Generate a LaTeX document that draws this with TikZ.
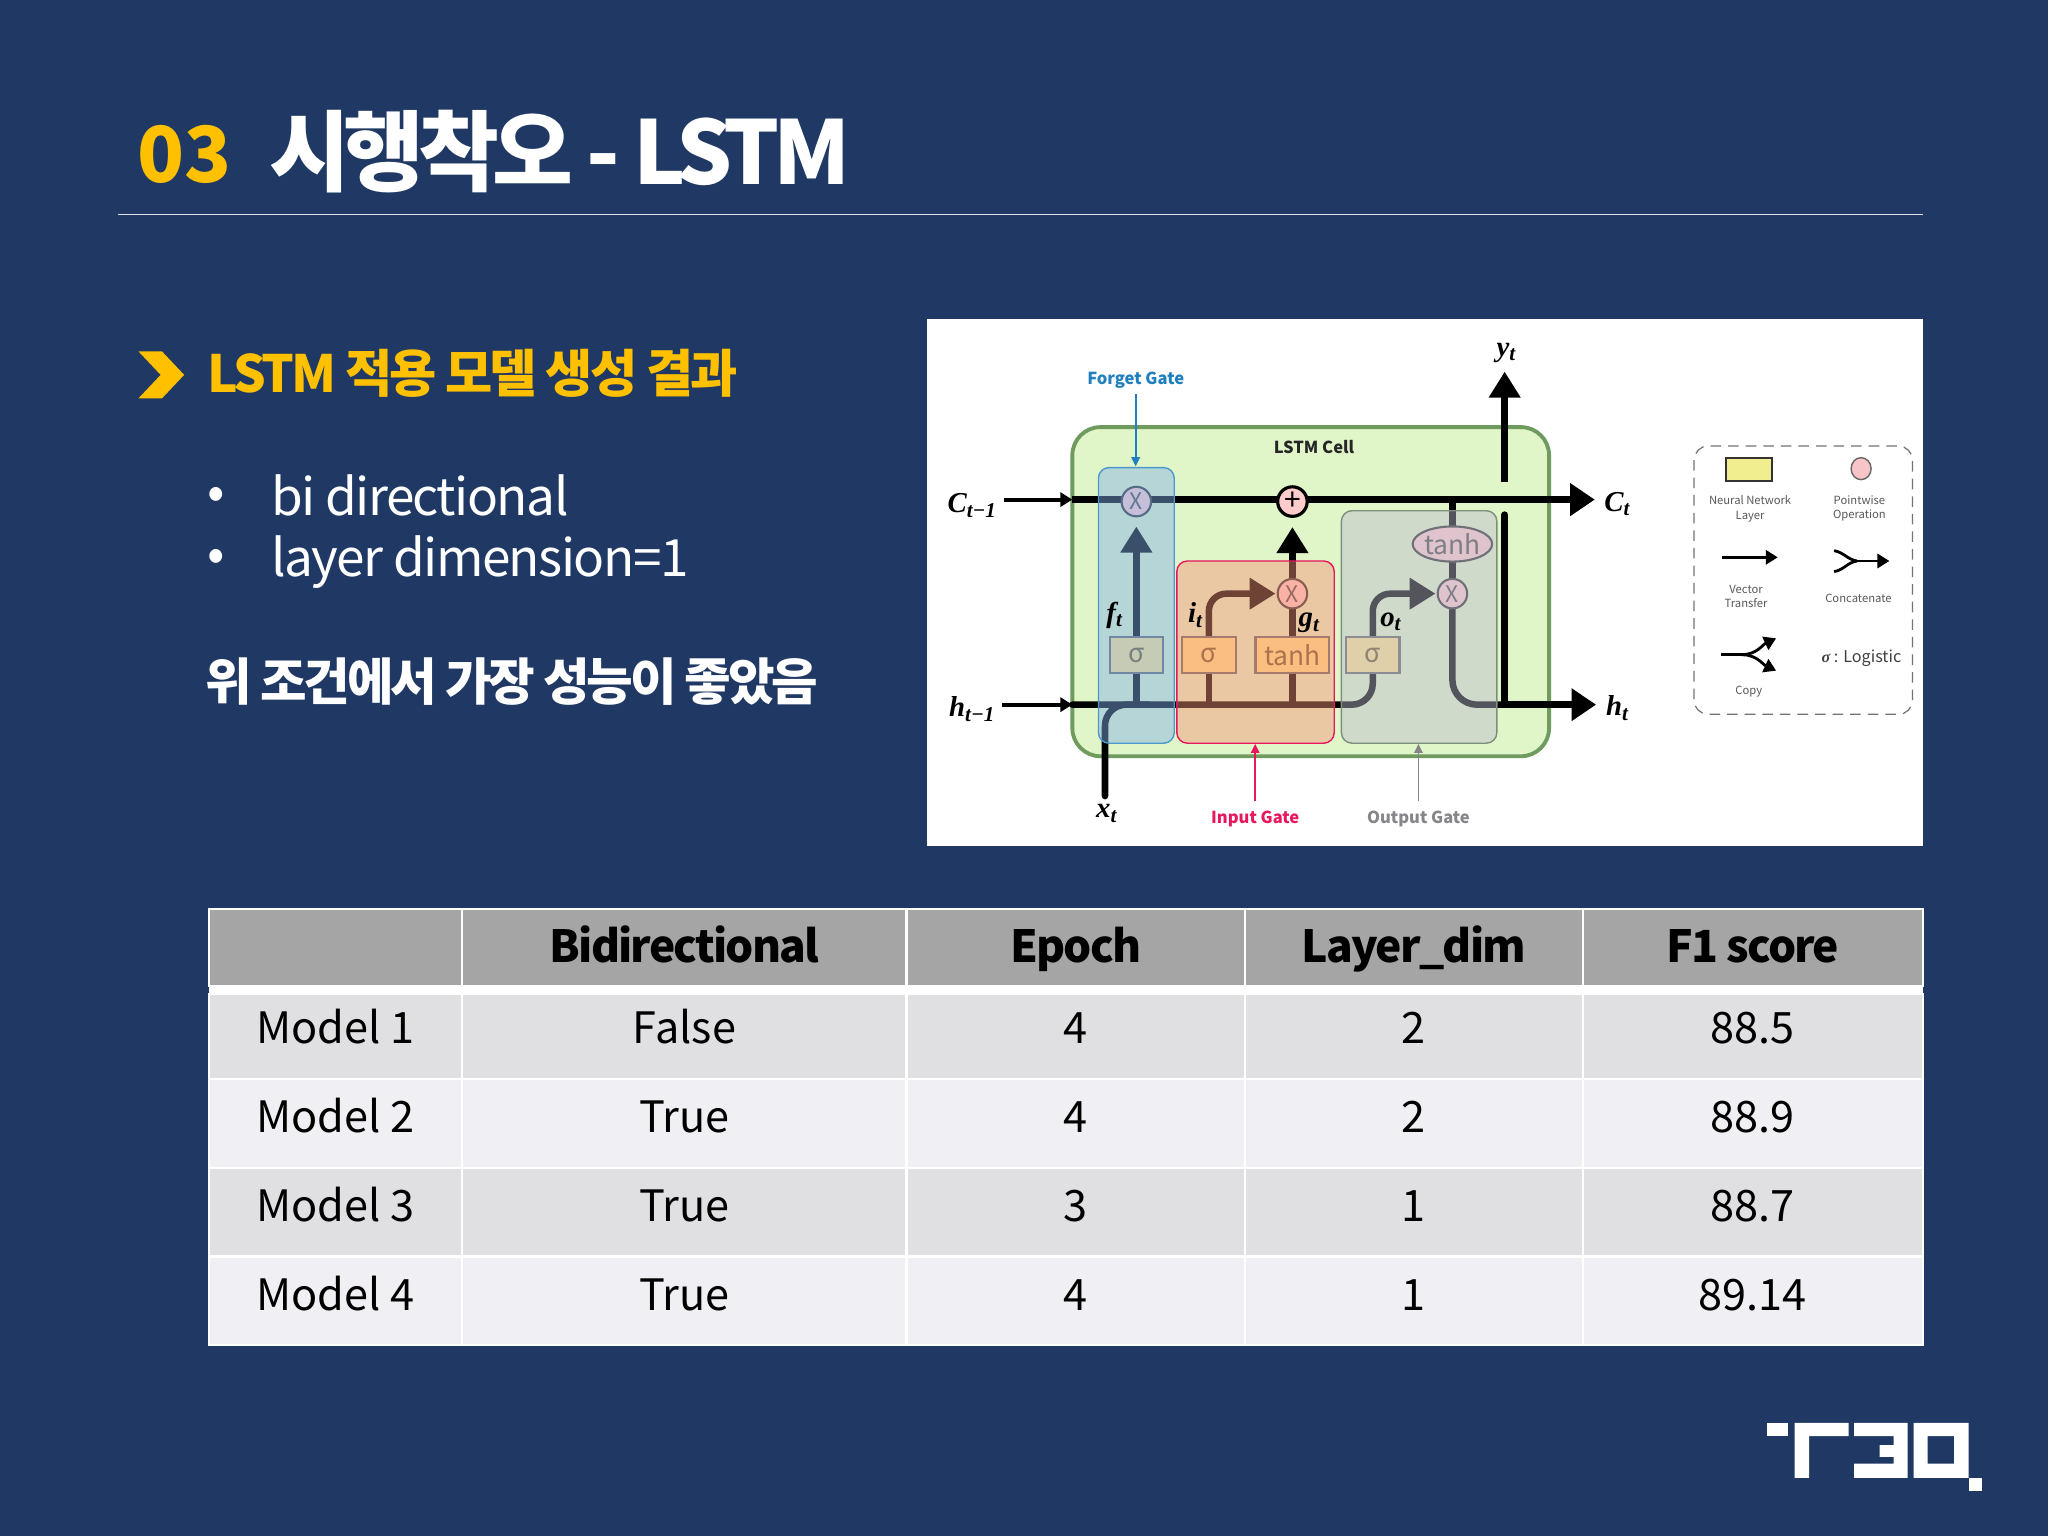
\documentclass[tikz,border=0pt]{standalone}
\usepackage{fontspec}
\usetikzlibrary{arrows.meta}
\usetikzlibrary{shapes.geometric}
\setmainfont{Noto Sans CJK KR}
\newfontfamily\seriffont{Liberation Serif}
\pgfdeclarelayer{under}
\pgfdeclarelayer{lines}
\pgfsetlayers{under,lines,main}
\definecolor{slidebg}{HTML}{1F3864}
\definecolor{slideyellow}{HTML}{FFC000}
\definecolor{headgray}{HTML}{A6A5A6}
\definecolor{rowdark}{HTML}{E0DFE2}
\definecolor{rowlight}{HTML}{F0F0F4}
\definecolor{cellgreen}{HTML}{E0F5C8}
\definecolor{celledge}{HTML}{6F9B5F}
\definecolor{netyellow}{HTML}{FFE28A}
\definecolor{nettext}{HTML}{6E5A2A}
\definecolor{forgetblue}{HTML}{1F7FBF}
\definecolor{inputpink}{HTML}{E6175C}
\definecolor{outputgray}{HTML}{85858A}
\definecolor{outputedge}{HTML}{7C8F7C}
\newcommand{\headfont}{\fontsize{12.6}{15}\bfseries\addfontfeature{LetterSpace=-4}}
\newcommand{\cellfont}{\fontsize{12.3}{15}\selectfont}
\newcommand{\lab}[2]{{\seriffont\bfseries\itshape #1\raisebox{-.35ex}{\fontsize{6}{6}\selectfont #2}}}
\tikzset{
    flow/.style={line width=1.85pt,line cap=round},
    mainflow/.style={line width=2pt,-{Triangle[length=7pt,width=8.9pt]}},
    headflow/.style={line width=1.85pt,-{Triangle[length=7.4pt,width=8.6pt]}},
    thinflow/.style={line width=1.1pt,-{Triangle[length=3.4pt,width=4pt]}},
    gateline/.style={line width=.55pt,-{Triangle[length=2.6pt,width=2.4pt]}},
    netbox/.style={draw=black!60,line width=.6pt,fill=netyellow,text=nettext,inner sep=0pt,minimum height=10.3pt,font=\fontsize{7.5}{8}\selectfont},
    opcircle/.style={circle,draw=black!80,line width=.6pt,fill=red!20,inner sep=0pt,minimum size=8.4pt,text=black!70,font=\fontsize{6.5}{7}\selectfont},
    mathlabel/.style={inner sep=0pt,font=\fontsize{8.2}{9}\selectfont},
    gatelabel/.style={inner sep=0pt,font=\fontsize{4.7}{6}\selectfont\bfseries},
    legendtext/.style={inner sep=0pt,align=center,text=black!65,font=\fontsize{3.2}{4.1}\selectfont},
    legendflow/.style={line width=.8pt,-{Triangle[length=3.4pt,width=4pt]}},
    tabletext/.style={inner sep=0pt,anchor=base,text=black},
    bodytext/.style={anchor=west,inner sep=0pt,text=white,font=\fontsize{14.6}{18}\selectfont},
}
\begin{document}
\begin{tikzpicture}[x=0.1306mm,y=-0.1306mm]
    \useasboundingbox (0,0) rectangle (1568,1176);
    \begin{pgfonlayer}{under}
    	\fill[slidebg] (0,0) rectangle (1568,1176);
    	\fill[white] (710,244) rectangle (1472,648);
    	\draw[celledge,fill=cellgreen,line width=1.1pt,rounded corners=8pt] (821,327) rectangle (1186,579);
    \end{pgfonlayer}

    % title
    \node[anchor=west,inner sep=0pt,text=slideyellow,font=\fontsize{22}{26}\selectfont\bfseries] (titlenum) at (105,118) {03};
    \node[anchor=west,inner sep=0pt,text=white,font=\fontsize{25}{30}\selectfont\bfseries] (titletext) at (206,116) {\addfontfeature{LetterSpace=-7.7}시행착오 - LSTM};
    \draw[white!85!slidebg,line width=.35pt] (90,164.5) -- (1472,164.5);

    % left text
    \fill[slideyellow] (106,269) -- (124,269) -- (141,287) -- (124,305) -- (106,305) -- (123,287) -- cycle;
    \node[anchor=west,inner sep=0pt,text=slideyellow,font=\fontsize{14.6}{18}\selectfont\bfseries] (heading) at (158,286) {\addfontfeature{LetterSpace=-5.8}LSTM 적용 모델 생성 결과};
    \node[bodytext] (bulleta) at (158,382) {•};
    \node[bodytext] (bulletb) at (158,429) {•};
    \node[bodytext] (itema) at (207,379) {\addfontfeature{LetterSpace=-3}bi directional};
    \node[bodytext] (itemb) at (207,430) {\addfontfeature{LetterSpace=-3}layer dimension=1};
    \node[bodytext,font=\fontsize{14.4}{18}\selectfont\bfseries] (summary) at (157,522) {\addfontfeature{LetterSpace=-6.5}위 조건에서 가장 성능이 좋았음};

    % lstm figure
    \coordinate (cin) at (768.5,382.5);
    \coordinate (cedge) at (821,382.5);
    \coordinate (cout) at (1221,382.5);
    \coordinate (hin) at (767,539.5);
    \coordinate (hedge) at (821,539.5);
    \coordinate (hout) at (1222,539.5);
    \coordinate (hjoin) at (1150,539.5);
    \coordinate (xin) at (846,609.5);
    \coordinate (xjoin) at (880,539.5);
    \coordinate (yin) at (1152,369);
    \coordinate (yout) at (1152,284.5);
    \coordinate (ylow) at (1152,394);

    \node[netbox,minimum width=15.2pt] (fsig) at (870,501.5) {σ};
    \node[netbox,minimum width=15.2pt] (isig) at (925.5,501.5) {σ};
    \node[netbox,minimum width=21pt] (gtanh) at (989.5,501.5) {tanh};
    \node[netbox,minimum width=15.2pt] (osig) at (1051,501.5) {σ};
    \node[opcircle] (xforget) at (870,384) {X};
    \node[opcircle,draw=black,line width=.9pt,font=\fontsize{8.5}{8}\selectfont,text=black] (plus) at (989.5,384) {+};
    \node[opcircle] (xinput) at (989.5,454.5) {X};
    \node[opcircle] (xoutput) at (1112,454.5) {X};
    \node[ellipse,draw=black!80,line width=.6pt,fill=red!20,inner sep=0pt,minimum width=21pt,minimum height=10pt,text=black!70,font=\fontsize{7.5}{8}\selectfont] (otanh) at (1112,416.5) {tanh};

    \begin{pgfonlayer}{lines}
    	\draw[mainflow] (cedge) -- (cout);
    	\draw[mainflow] (hjoin) -- (hout);
    	\draw[thinflow] (cin) -- (cedge);
    	\draw[thinflow] (hin) -- (hedge);
    	\draw[flow,rounded corners=6pt] (xin) |- (xjoin);
    	\draw[headflow] (yin) -- (yout);
    	\draw[flow] (ylow) -- (ylow |- hjoin);
    	\draw[flow] (fsig) -- (fsig |- hedge);
    	\draw[flow] (isig) -- (isig |- hedge);
    	\draw[flow] (gtanh) -- (gtanh |- hedge);
    	\draw[flow,rounded corners=6pt] (hedge) -| (osig);
    	\draw[headflow,shorten >=2.6pt] (fsig) -- (xforget.south);
    	\draw[headflow,shorten >=2.6pt] (xinput) -- (plus.south);
    	\draw[flow] (gtanh) -- (xinput);
    	\draw[headflow,rounded corners=5pt,shorten >=.3pt] (isig) |- (xinput.west);
    	\draw[headflow,rounded corners=5pt,shorten >=.3pt] (osig) |- (xoutput.west);
    	\draw[flow] (otanh) -- (otanh |- cedge);
    	\draw[flow] (otanh) -- (xoutput);
    	\draw[flow,rounded corners=7pt] (xoutput) |- (hjoin);
    \end{pgfonlayer}

    % gate boxes
    \fill[fill={rgb,255:red,129;green,176;blue,235},fill opacity=.45,rounded corners=3pt] (841,358) rectangle (899,569);
    \draw[forgetblue!80,line width=.4pt,rounded corners=3pt] (841,358) rectangle (899,569);
    \fill[fill={rgb,255:red,247;green,147;blue,120},fill opacity=.45,rounded corners=3pt] (901,429.5) rectangle (1021.5,569);
    \draw[inputpink,line width=.4pt,rounded corners=3pt] (901,429.5) rectangle (1021.5,569);
    \fill[fill={rgb,255:red,187;green,187;blue,207},fill opacity=.45,rounded corners=3pt] (1027,391) rectangle (1146,569);
    \draw[outputedge,line width=.4pt,rounded corners=3pt] (1027,391) rectangle (1146,569);

    % labels
    \node[gatelabel,text=forgetblue] (forgetlabel) at (869.5,291) {Forget Gate};
    \node[gatelabel,text=inputpink] (inputlabel) at (961,627) {Input Gate};
    \node[gatelabel,text=outputgray] (outputlabel) at (1086,627) {Output Gate};
    \node[gatelabel,text=black!85] (celllabel) at (1006,342) {LSTM Cell};
    \coordinate (fstart) at (869.5,302);
    \coordinate (fend) at (869.5,357);
    \coordinate (istart) at (961,613.5);
    \coordinate (iend) at (961,569.5);
    \coordinate (ostart) at (1086,613.5);
    \coordinate (oend) at (1086,569.5);
    \draw[gateline,forgetblue] (fstart) -- (fend);
    \draw[gateline,inputpink] (istart) -- (iend);
    \draw[gateline,outputgray] (ostart) -- (oend);

    \node[mathlabel] (clabela) at (744,387) {\lab{C}{t−1}};
    \node[mathlabel] (clabelb) at (1238,386) {\lab{C}{t}};
    \node[mathlabel] (hlabela) at (744,543) {\lab{h}{t−1}};
    \node[mathlabel] (hlabelb) at (1238,542) {\lab{h}{t}};
    \node[mathlabel] (xlabel) at (847,623) {\lab{x}{t}};
    \node[mathlabel] (ylabel) at (1153,270) {\lab{y}{t}};
    \node[mathlabel] (flabel) at (853,471) {\lab{f}{t}};
    \node[mathlabel] (ilabel) at (915,471) {\lab{i}{t}};
    \node[mathlabel] (glabel) at (1002,477) {\lab{g}{t}};
    \node[mathlabel] (olabel) at (1064.5,476) {\lab{o}{t}};

    % legend
    \begin{scope}[shift={(1271,329.2)},scale=.2552]
    	\draw[black!55,line width=.35pt,densely dashed,rounded corners=4pt] (102,48) rectangle (757,853);
    	\draw[black!80,fill={rgb,255:red,240;green,238;blue,143},line width=.5pt] (197,84) rectangle (335,152);
    	\draw[black!60,fill={rgb,255:red,247;green,197;blue,200},line width=.4pt] (603,116) ellipse (30 and 33);
    	\node[legendtext] (leglayer) at (270,236) {Neural Network\\Layer};
    	\node[legendtext] (legpoint) at (598,236) {Pointwise\\Operation};
    	\node[legendtext] (legvector) at (258,500) {Vector\\Transfer};
    	\node[legendtext] (legconcat) at (595,505) {Concatenate};
    	\node[legendtext] (legcopy) at (266,785) {Copy};
    	\node[inner sep=0pt,text=black!75,font=\fontsize{4.6}{5}\selectfont] (leglogistic) at (604,685) {{\seriffont\bfseries\itshape σ} : Logistic};
    	\draw[legendflow] (187,382) coordinate (vecin) -- (353,382) coordinate (vecout);
    	\draw[legendflow] (590,393) coordinate (conjoin) -- (688,393) coordinate (conout);
    	\draw[line width=.8pt] (522,362) to[out=-10,in=170] (conjoin);
    	\draw[line width=.8pt] (522,425) to[out=10,in=190] (conjoin);
    	\draw[line width=.8pt] (182,674) coordinate (copyin) -- (245,674) coordinate (copyjoin);
    	\draw[legendflow] (copyjoin) to[out=0,in=205] (348,625);
    	\draw[legendflow] (copyjoin) to[out=0,in=155] (348,722);
    \end{scope}

    % table
    \foreach \ry/\rtop/\rbot/\rfill/\rname/\rfont/\ta/\tb/\tc/\td/\te in {
    	737/696/755/headgray/head/\headfont/{}/Bidirectional/Epoch/Layer\_dim/F1 score,
    	799/761/826/rowdark/rowa/\cellfont/Model 1/False/4/2/88.5,
    	867/826/894/rowlight/rowb/\cellfont/Model 2/True/4/2/88.9,
    	935/894/962/rowdark/rowc/\cellfont/Model 3/True/3/1/88.7,
    	1003/962/1030/rowlight/rowd/\cellfont/Model 4/True/4/1/89.14}{
    	\foreach \k/\xa/\xb/\t in {1/160/354/\ta,2/354/694/\tb,3/694/953/\tc,4/953/1212/\td,5/1212/1472/\te}{
    		\fill[\rfill] (\xa,\rtop) rectangle (\xb,\rbot);
    		\draw[white,line width=.6pt] (\xa,\rtop) rectangle (\xb,\rbot);
    		\node[tabletext,font=\rfont] (\rname\k) at ({(\xa+\xb)/2},\ry) {\t};
    	}
    }
    \fill[white] (160,755) rectangle (1472,761);

    % logo
    \begin{scope}[shift={(1332.3,1072)},scale=.2552]
    	\fill[white] (80,68) rectangle (142,108);
    	\fill[white] (163,68) -- (325,68) -- (325,108) -- (207,108) -- (207,233) -- (163,233) -- cycle;
    	\fill[white] (342,68) -- (502,68) -- (502,233) -- (342,233) -- (342,190) -- (460,190) -- (460,170) -- (418,170) -- (418,135) -- (460,135) -- (460,108) -- (342,108) -- cycle;
    	\fill[white,even odd rule] (520,68) rectangle (685,233) (562,108) rectangle (642,190);
    	\fill[white] (685,232) rectangle (726,272);
    \end{scope}
\end{tikzpicture}
\end{document}
